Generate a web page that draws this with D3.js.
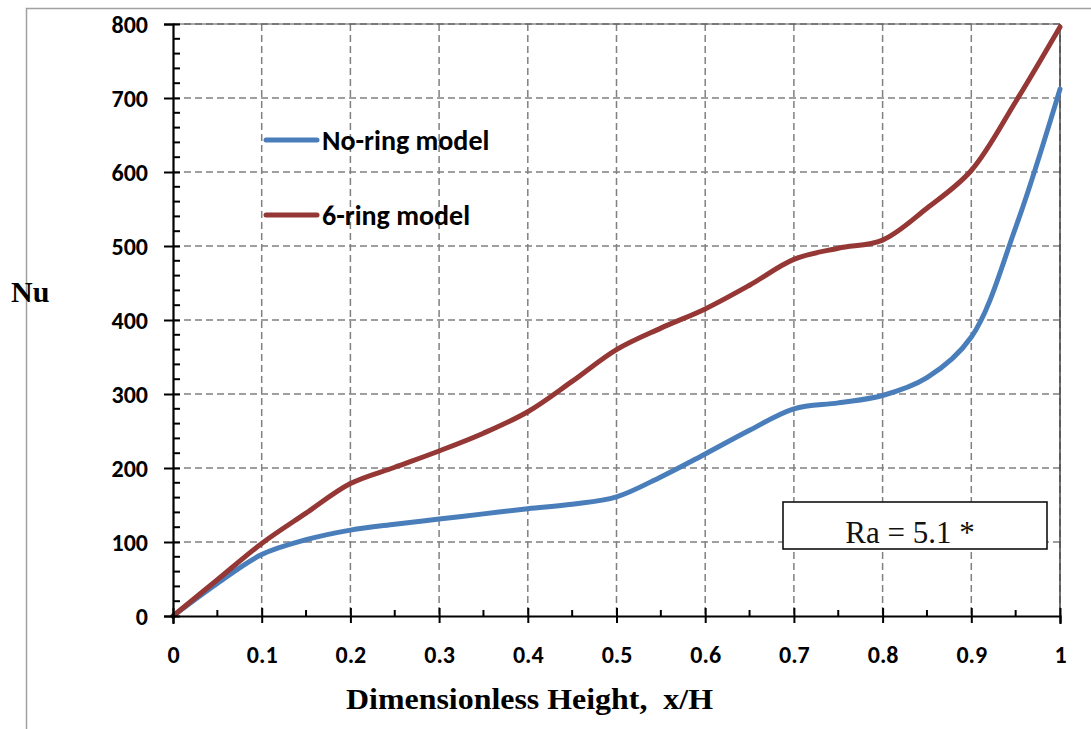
<!DOCTYPE html>
<html lang="en">
<head>
    <meta charset="UTF-8">
    <script src="https://cdn.jsdelivr.net/npm/d3@7/dist/d3.min.js"></script>
    <title>Nu vs x/H</title>
    <style>
        html,body{
            margin:0px;
            background:#fff;
        }
        svg{display:block;}
    </style>
</head>
<body>
<svg id="chart" width="1091" height="729"></svg>
<script>
    // values
    var xH      = [0, 0.05, 0.1, 0.15, 0.2, 0.25, 0.3, 0.35, 0.4, 0.45, 0.5, 0.55, 0.6, 0.65, 0.7, 0.75, 0.8, 0.85, 0.9, 0.95, 1];
    var noRing  = [0, 44, 83, 103, 116, 124, 131, 138, 145, 151, 161, 188, 219, 251, 280, 288, 298, 322, 377, 525, 712];
    var sixRing = [0, 49, 98, 139, 179, 201, 223, 247, 276, 317, 360, 389, 415, 447, 482, 497, 508, 551, 602, 695, 796];
    var xTicks  = [0, 0.1, 0.2, 0.3, 0.4, 0.5, 0.6, 0.7, 0.8, 0.9, 1];
    var yTicks  = [0, 100, 200, 300, 400, 500, 600, 700, 800];
    var seriesNames = ["No-ring model", "6-ring model"];
    var seriesColors = ["#4a7ebb", "#953735"];

    var svg = d3.select("#chart");
    var pLeft = 173, pRight = 1060, pTop = 24, pBottom = 616;

    var x = d3.scaleLinear().domain([0, 1]).range([pLeft, pRight]);
    var y = d3.scaleLinear().domain([0, 800]).range([pBottom, pTop]);

    var tickFont = "Calibri, Carlito, Lato, sans-serif";
    var serif = "'Times New Roman', 'Liberation Serif', serif";

    // outer frame (runs off the page on right and bottom)
    svg.append("path")
        .attr("d", "M26.5,729V8.5H1091")
        .attr("fill", "none").attr("stroke", "#a0a0a0").attr("stroke-width", 1.5);

    // grid
    var grid = svg.append("g").attr("stroke", "#808080").attr("stroke-width", 1.5)
        .attr("stroke-dasharray", "7,4").attr("fill", "none");
    grid.selectAll("line.h").data(yTicks.slice(1)).enter().append("line")
        .attr("x1", pLeft).attr("x2", pRight)
        .attr("y1", function(d){ return y(d); }).attr("y2", function(d){ return y(d); });
    grid.selectAll("line.v").data(xTicks.slice(1)).enter().append("line")
        .attr("y1", pTop).attr("y2", pBottom)
        .attr("x1", function(d){ return x(d); }).attr("x2", function(d){ return x(d); });

    // plot area top/right edges
    svg.append("line").attr("x1", pLeft).attr("x2", pRight).attr("y1", pTop).attr("y2", pTop)
        .attr("stroke", "#555").attr("stroke-width", 1.2);
    svg.append("line").attr("x1", pRight).attr("x2", pRight).attr("y1", pTop).attr("y2", pBottom)
        .attr("stroke", "#444").attr("stroke-width", 1.5);

    // curves
    var line = d3.line()
        .x(function(d){ return x(d[0]); })
        .y(function(d){ return y(d[1]); })
        .curve(d3.curveCatmullRom.alpha(0.5));
    [noRing, sixRing].forEach(function(vals, i){
        svg.append("path")
            .datum(xH.map(function(v, j){ return [v, vals[j]]; }))
            .attr("d", line)
            .attr("fill", "none")
            .attr("stroke", seriesColors[i])
            .attr("stroke-width", 5)
            .attr("stroke-linecap", "round")
            .attr("stroke-linejoin", "round");
    });

    // y axis
    var yAxis = svg.append("g")
        .attr("transform", "translate(" + pLeft + ",0)")
        .call(d3.axisLeft(y).tickValues(yTicks).tickSize(9).tickFormat(d3.format("d")));
    yAxis.select(".domain").attr("stroke", "#000").attr("stroke-width", 2.2);
    yAxis.selectAll(".tick line").attr("stroke", "#000").attr("stroke-width", 2).attr("x2", -9).attr("x1", 7);
    yAxis.selectAll(".tick text")
        .attr("font-family", tickFont).attr("font-weight", "bold").attr("font-size", 24)
        .attr("fill", "#000").attr("x", -25).attr("dy", "0.34em");
    yAxis.selectAll("line.minor").data(d3.range(20, 800, 20).filter(function(d){ return d % 100; }))
        .enter().append("line").attr("class", "minor")
        .attr("x1", 0).attr("x2", 7)
        .attr("y1", function(d){ return y(d); }).attr("y2", function(d){ return y(d); })
        .attr("stroke", "#000").attr("stroke-width", 2);

    // x axis
    var xAxis = svg.append("g")
        .attr("transform", "translate(0," + pBottom + ")")
        .call(d3.axisBottom(x).tickValues(xTicks).tickSize(8).tickFormat(d3.format("")));
    xAxis.select(".domain").attr("stroke", "#000").attr("stroke-width", 2.2);
    xAxis.selectAll(".tick line").attr("stroke", "#000").attr("stroke-width", 2).attr("y1", -8).attr("y2", 7);
    xAxis.selectAll(".tick text")
        .attr("font-family", tickFont).attr("font-weight", "bold").attr("font-size", 24)
        .attr("fill", "#000").attr("dy", null).attr("y", 47);
    xAxis.selectAll("line.minor").data([0.05, 0.15, 0.25, 0.35, 0.45, 0.55, 0.65, 0.75, 0.85, 0.95])
        .enter().append("line").attr("class", "minor")
        .attr("y1", 0).attr("y2", -6)
        .attr("x1", function(d){ return x(d); }).attr("x2", function(d){ return x(d); })
        .attr("stroke", "#000").attr("stroke-width", 2);

    // axis titles
    svg.append("text").attr("x", 11).attr("y", 302)
        .attr("font-family", serif)
        .attr("font-weight", "bold").attr("font-size", 30).text("Nu");
    svg.append("text").attr("x", 346).attr("y", 709)
        .attr("font-family", serif)
        .attr("font-weight", "bold").attr("font-size", 29)
        .attr("textLength", 367).attr("lengthAdjust", "spacingAndGlyphs")
        .attr("xml:space", "preserve").text("Dimensionless Height,  x/H");

    // legend
    var legY = [140, 215];
    seriesNames.forEach(function(name, i){
        svg.append("line").attr("x1", 266).attr("x2", 317)
            .attr("y1", legY[i]).attr("y2", legY[i])
            .attr("stroke", seriesColors[i]).attr("stroke-width", 5).attr("stroke-linecap", "round");
        svg.append("text").attr("x", 322).attr("y", legY[i]).attr("dy", "0.34em")
            .attr("font-family", tickFont).attr("font-weight", "bold").attr("font-size", 28)
            .attr("fill", "#000").text(name);
    });

    // Ra box
    svg.append("clipPath").attr("id", "raclip").append("rect")
        .attr("x", 783).attr("y", 502).attr("width", 264).attr("height", 41);
    svg.append("rect").attr("x", 783).attr("y", 502).attr("width", 264).attr("height", 47)
        .attr("fill", "#fff").attr("stroke", "#111").attr("stroke-width", 1.6);
    svg.append("text").attr("x", 910).attr("y", 543).attr("text-anchor", "middle")
        .attr("clip-path", "url(#raclip)")
        .attr("font-family", serif)
        .attr("font-size", 31).attr("fill", "#111").text("Ra = 5.1 *");
</script>
</body>
</html>
